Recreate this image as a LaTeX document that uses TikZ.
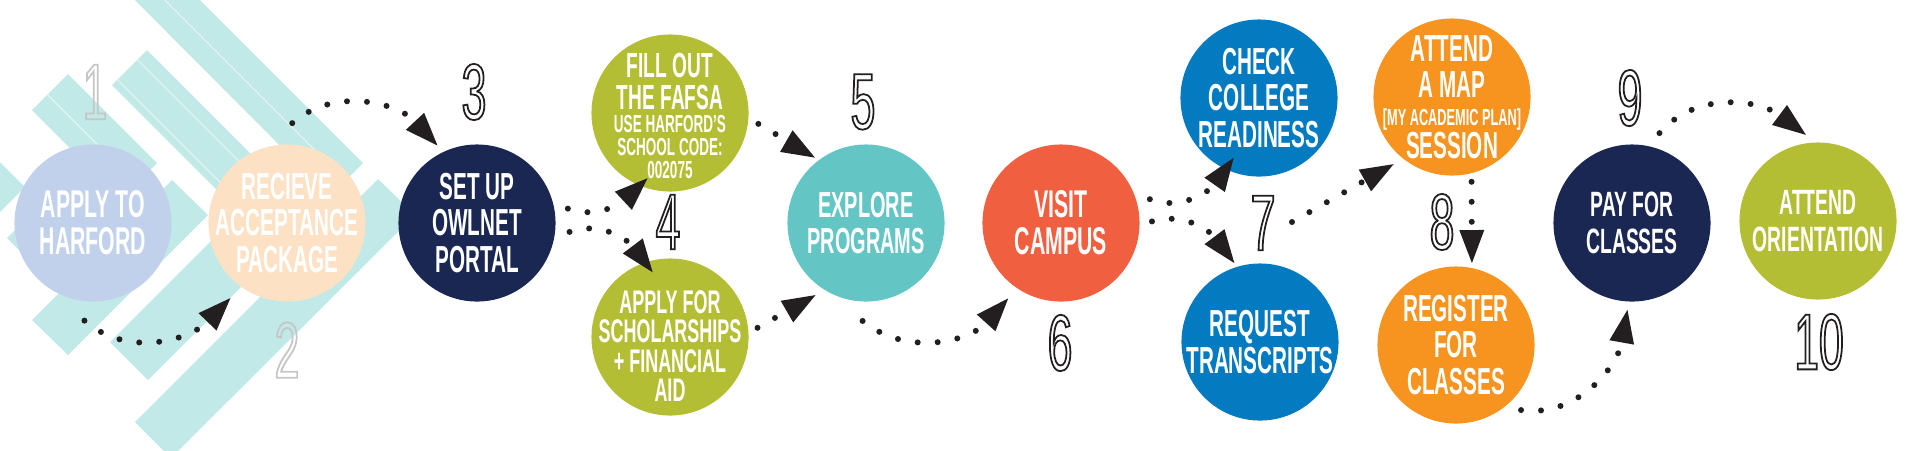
\documentclass[tikz,border=0pt]{standalone}
\usepackage{fontspec}
\usetikzlibrary{arrows.meta}

\newfontfamily\labelfont{Liberation Sans}[FakeStretch=0.55]
\newfontfamily\numfont{Liberation Sans}[FakeStretch=0.56]
\newcommand\lsize[2]{\labelfont\bfseries\fontsize{#1}{#2}\selectfont}
\newcommand\hollow[1]{\special{pdf:literal direct 1 Tr 0.5 w}#1\special{pdf:literal direct 0 Tr}}

\definecolor{stripecol}{HTML}{C1E9E7}
\definecolor{periwinkle}{HTML}{C1D1EC}
\definecolor{peach}{HTML}{FDE1C4}
\definecolor{navy}{HTML}{1B2753}
\definecolor{olive}{HTML}{B4BE34}
\definecolor{tealcol}{HTML}{63C6C5}
\definecolor{redorange}{HTML}{F05F40}
\definecolor{bluecol}{HTML}{047AC1}
\definecolor{orangecol}{HTML}{F7941F}
\definecolor{greynum}{HTML}{C6C6C6}
\definecolor{ink}{HTML}{231F20}

\tikzset{
  stripe/.style={fill=stripecol},
  seam/.style={draw=white, opacity=0.6, line width=0.3pt},
  stepnode/.style={circle, minimum size=1.57cm, inner sep=0pt},
  steptext/.style={inner sep=0pt, text=white, align=center, font=\lsize{11}{10.5}},
  stepnum/.style={inner sep=0pt, text=ink, font=\numfont\fontsize{22.6}{22.6}\selectfont},
  flow/.style={->, draw=ink, line width=0.06cm, line cap=round, dash pattern=on 0pt off 0.2cm},
}

\begin{document}
\begin{tikzpicture}[x=0.01cm, y=0.01cm, >={Triangle[length=0.33cm, width=0.25cm, line width=0pt]}]
    \useasboundingbox (0,0) rectangle (1920,450);
    % Streifen im Hintergrund
    \begin{scope}
        \clip (0,0) rectangle (1920,450);
        \fill[stripe] (180,470) -- (363,287) -- (330,254) -- (115,470) -- cycle;
        \fill[stripe] (112,365) -- (147,400) -- (290,257) -- (255,222) -- cycle;
        \fill[stripe] (32,340) -- (68,376) -- (157,287) -- (121,251) -- cycle;
        \fill[stripe] (32,130) -- (172,270) -- (208,235) -- (68,95) -- cycle;
        \fill[stripe] (110,108) -- (280,278) -- (316,238) -- (148,70) -- cycle;
        \fill[stripe] (135,28) -- (378,271) -- (415,235) -- (171,-8) -- cycle;
        \fill[stripe] (-10,298) -- (25,263) -- (-40,198) -- (-75,233) -- cycle;
        \fill[stripe] (7,212) -- (42,247) -- (110,179) -- (75,144) -- cycle;
        \draw[seam] (165,450) -- (345,270);
        \draw[seam] (137.5,390.5) -- (260,268);
        \draw[seam] (117.5,370.5) -- (260,228);
        \draw[seam] (47.5,355.5) -- (136.5,266.5);
    \end{scope}

    % Schritte
    \node[stepnode, fill=periwinkle] (s1) at (93,227) {};
    \node[stepnode, fill=peach] (s2) at (287,227) {};
    \node[stepnode, fill=navy] (s3) at (477,227) {};
    \node[stepnode, fill=olive] (s4a) at (670,337) {};
    \node[stepnode, fill=olive] (s4b) at (670,113) {};
    \node[stepnode, fill=tealcol] (s5) at (866,227) {};
    \node[stepnode, fill=redorange] (s6) at (1061,227) {};
    \node[stepnode, fill=bluecol] (s7a) at (1259,352) {};
    \node[stepnode, fill=bluecol] (s7b) at (1260,108) {};
    \node[stepnode, fill=orangecol] (s8a) at (1452,353) {};
    \node[stepnode, fill=orangecol] (s8b) at (1456,105) {};
    \node[stepnode, fill=navy] (s9) at (1632,227) {};
    \node[stepnode, fill=olive] (s10) at (1818,229) {};

    \node[steptext] (t1) at (s1) {APPLY TO\\HARFORD};
    \node[steptext, font=\lsize{10.7}{10.5}] (t2) at (s2) {RECIEVE\\ACCEPTANCE\\PACKAGE};
    \node[steptext, font=\lsize{10.7}{10.5}] (t3) at (s3) {SET UP\\OWLNET\\PORTAL};
    \node[steptext, font=\lsize{9.9}{9.1}] (t4a) at ([yshift=-0.03cm]s4a.center)
        {FILL OUT\\THE FAFSA\\[-2.4pt]\lsize{7}{6.4}USE HARFORD’S\\[-2.6pt]\lsize{7}{6.4}SCHOOL CODE:\\[-2.6pt]\lsize{7}{6.4}002075};
    \node[steptext, font=\lsize{9.3}{8.4}] (t4b) at ([yshift=-0.09cm]s4b.center)
        {APPLY FOR\\SCHOLARSHIPS\\+ FINANCIAL\\AID};
    \node[steptext, font=\lsize{10.3}{10.5}] (t5) at (s5) {EXPLORE\\PROGRAMS};
    \node[steptext] (t6) at (s6) {VISIT\\CAMPUS};
    \node[steptext, font=\lsize{10.7}{10.5}] (t7a) at (s7a) {CHECK\\COLLEGE\\READINESS};
    \node[steptext, font=\lsize{10.7}{10.5}] (t7b) at (s7b) {REQUEST\\TRANSCRIPTS};
    \node[steptext, font=\lsize{10.7}{10.3}] (t8a) at (s8a)
        {ATTEND\\A MAP\\[-2.4pt]\lsize{6.6}{6.5}[MY ACADEMIC PLAN]\\[-1pt]SESSION};
    \node[steptext, font=\lsize{10.7}{10.5}] (t8b) at (s8b) {REGISTER\\FOR\\CLASSES};
    \node[steptext, font=\lsize{10}{10.5}] (t9) at (s9) {PAY FOR\\CLASSES};
    \node[steptext, font=\lsize{10}{10.5}] (t10) at (s10) {ATTEND\\ORIENTATION};

    % Nummern
    \node[stepnum, text=greynum] (n1) at (95,358) {\hollow{1}};
    \node[stepnum, text=greynum] (n2) at (287,100) {\hollow{2}};
    \node[stepnum] (n3) at (474,358) {\hollow{3}};
    \node[stepnum] (n4) at (668,228) {\hollow{4}};
    \node[stepnum] (n5) at (863,348) {\hollow{5}};
    \node[stepnum] (n6) at (1060,107) {\hollow{6}};
    \node[stepnum] (n7) at (1263,227) {\hollow{7}};
    \node[stepnum] (n8) at (1442,228) {\hollow{8}};
    \node[stepnum] (n9) at (1630,352) {\hollow{9}};
    \node[stepnum] (n10) at (1819,108) {\hollow{10}};

    % gepunktete Pfeile
    \draw[flow] ([shift={(265:98)}]s1.center) to[out=-41, in=226] ([shift={(233:94)}]s2.center);
    \draw[flow] ([shift={(87:100)}]s2.center) to[out=41, in=133] ([shift={(117:87)}]s3.center);
    \draw[flow] ([shift={(9:92)}]s3.center) to[out=-20, in=223] ([shift={(251:69)}]s4a.center);
    \draw[flow] ([shift={(-5.5:93)}]s3.center) to[out=20, in=127] ([shift={(105:67)}]s4b.center);
    \draw[flow] ([shift={(-7:89)}]s4a.center) to[out=-30, in=150] ([shift={(128:83)}]s5.center);
    \draw[flow] ([shift={(6:88)}]s4b.center) to[out=30, in=210] ([shift={(235:88)}]s5.center);
    \draw[flow] ([shift={(268:98)}]s5.center) to[out=-39, in=228] ([shift={(235:92)}]s6.center);
    \draw[flow] ([shift={(15:92)}]s6.center) to[out=-21, in=235] ([shift={(247:65)}]s7a.center);
    \draw[flow] ([shift={(1:91)}]s6.center) to[out=17, in=127] ([shift={(108:83)}]s7b.center);
    \draw[flow] ([shift={(29,1)}]n7.center) -- ([shift={(229:89)}]s8a.center);
    \draw[flow] ([shift={(283:87)}]s8a.center) -- ([shift={(79:83.5)}]s8b.center);
    \draw[flow] ([shift={(-45:92)}]s8b.center) to[out=-8, in=260] ([shift={(267:87)}]s9.center);
    \draw[flow] ([shift={(73:94)}]s9.center) to[out=49, in=143] ([shift={(98:87)}]s10.center);
\end{tikzpicture}
\end{document}
